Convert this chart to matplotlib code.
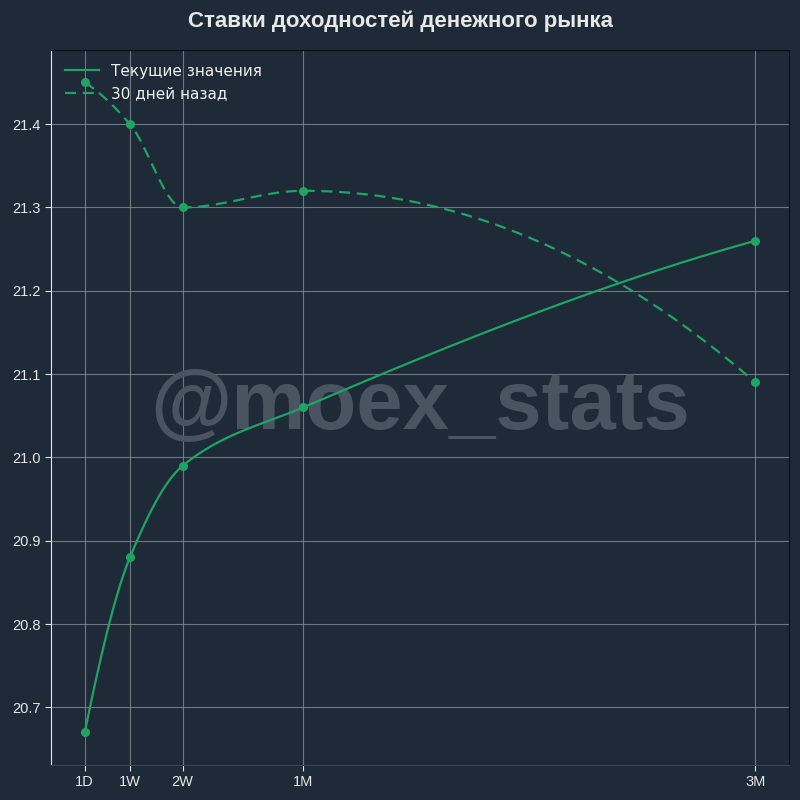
import matplotlib
matplotlib.use('Agg')
import matplotlib.pyplot as plt
import numpy as np

# tenors in days and their labels
tenor_days = [1, 7, 14, 30, 90]
tenor_labels = ['1D', '1W', '2W', '1M', '3M']

current_rates = [20.67, 20.88, 20.99, 21.06, 21.26]
rates_30d_ago = [21.45, 21.40, 21.30, 21.32, 21.09]

bg = '#1f2a38'
green = '#1fa463'


def pchip(x, y, n=400):
    # monotone cubic (Fritsch-Carlson, like scipy PchipInterpolator) for a smooth line
    x = np.asarray(x, float)
    y = np.asarray(y, float)
    h = np.diff(x)
    d = np.diff(y) / h
    k = len(x)
    m = np.zeros(k)
    for i in range(1, k - 1):
        if d[i - 1] * d[i] > 0:
            w1 = 2 * h[i] + h[i - 1]
            w2 = h[i] + 2 * h[i - 1]
            m[i] = (w1 + w2) / (w1 / d[i - 1] + w2 / d[i])

    def edge(h0, h1, d0, d1):
        v = ((2 * h0 + h1) * d0 - h0 * d1) / (h0 + h1)
        if np.sign(v) != np.sign(d0):
            v = 0.0
        elif np.sign(d0) != np.sign(d1) and abs(v) > abs(3 * d0):
            v = 3 * d0
        return v

    m[0] = edge(h[0], h[1], d[0], d[1])
    m[-1] = edge(h[-1], h[-2], d[-1], d[-2])

    xs = np.linspace(x[0], x[-1], n)
    ys = np.empty_like(xs)
    for j, xv in enumerate(xs):
        i = min(np.searchsorted(x, xv, side='right') - 1, k - 2)
        t = (xv - x[i]) / h[i]
        h00 = 2 * t ** 3 - 3 * t ** 2 + 1
        h10 = t ** 3 - 2 * t ** 2 + t
        h01 = -2 * t ** 3 + 3 * t ** 2
        h11 = t ** 3 - t ** 2
        ys[j] = h00 * y[i] + h10 * h[i] * m[i] + h01 * y[i + 1] + h11 * h[i] * m[i + 1]
    return xs, ys


fig = plt.figure(figsize=(8, 8), dpi=100, facecolor=bg)
ax = fig.add_axes([0.064, 0.044, 0.922, 0.8935])
ax.set_facecolor(bg)

xs, ys = pchip(tenor_days, current_rates)
ax.plot(xs, ys, color=green, lw=1.6, label='Текущие значения')
ax.plot(tenor_days, current_rates, 'o', color=green, ms=5.5)

xs, ys = pchip(tenor_days, rates_30d_ago)
ax.plot(xs, ys, color=green, lw=1.6, ls='--', dashes=(5, 3), label='30 дней назад')
ax.plot(tenor_days, rates_30d_ago, 'o', color=green, ms=5.5)

ax.set_xticks(tenor_days)
ax.set_xticklabels(tenor_labels)
ax.set_yticks([20.7, 20.8, 20.9, 21.0, 21.1, 21.2, 21.3, 21.4])
ax.grid(True, color='#8a9099', lw=0.8, alpha=0.75)
ax.set_axisbelow(True)

for lbl in ax.get_xticklabels() + ax.get_yticklabels():
    lbl.set_fontfamily('Liberation Sans')
ax.tick_params(colors='#e6e6e6', labelsize=10.5, length=4, width=0.8)

ax.spines['left'].set_color('#e6e6e6')
ax.spines['bottom'].set_color('#3a4552')
ax.spines['right'].set_color('#0a0f14')
ax.spines['top'].set_color('#0a0f14')

leg = ax.legend(loc='upper left', frameon=False, fontsize=11, labelcolor='#f0f0f0',
                handlelength=2.2, borderaxespad=0.5)

ax.text(0.5, 0.5, '@moex_stats', transform=ax.transAxes, ha='center', va='center',
        fontsize=60, fontweight='bold', family='Liberation Sans', color='#4a5461',
        zorder=1)

fig.text(0.5, 0.974, 'Ставки доходностей денежного рынка', ha='center', va='center',
         fontsize=16, fontweight='bold', family='Liberation Sans', color='#e8e8e8')

plt.savefig('out.png', dpi=100, facecolor=bg)
